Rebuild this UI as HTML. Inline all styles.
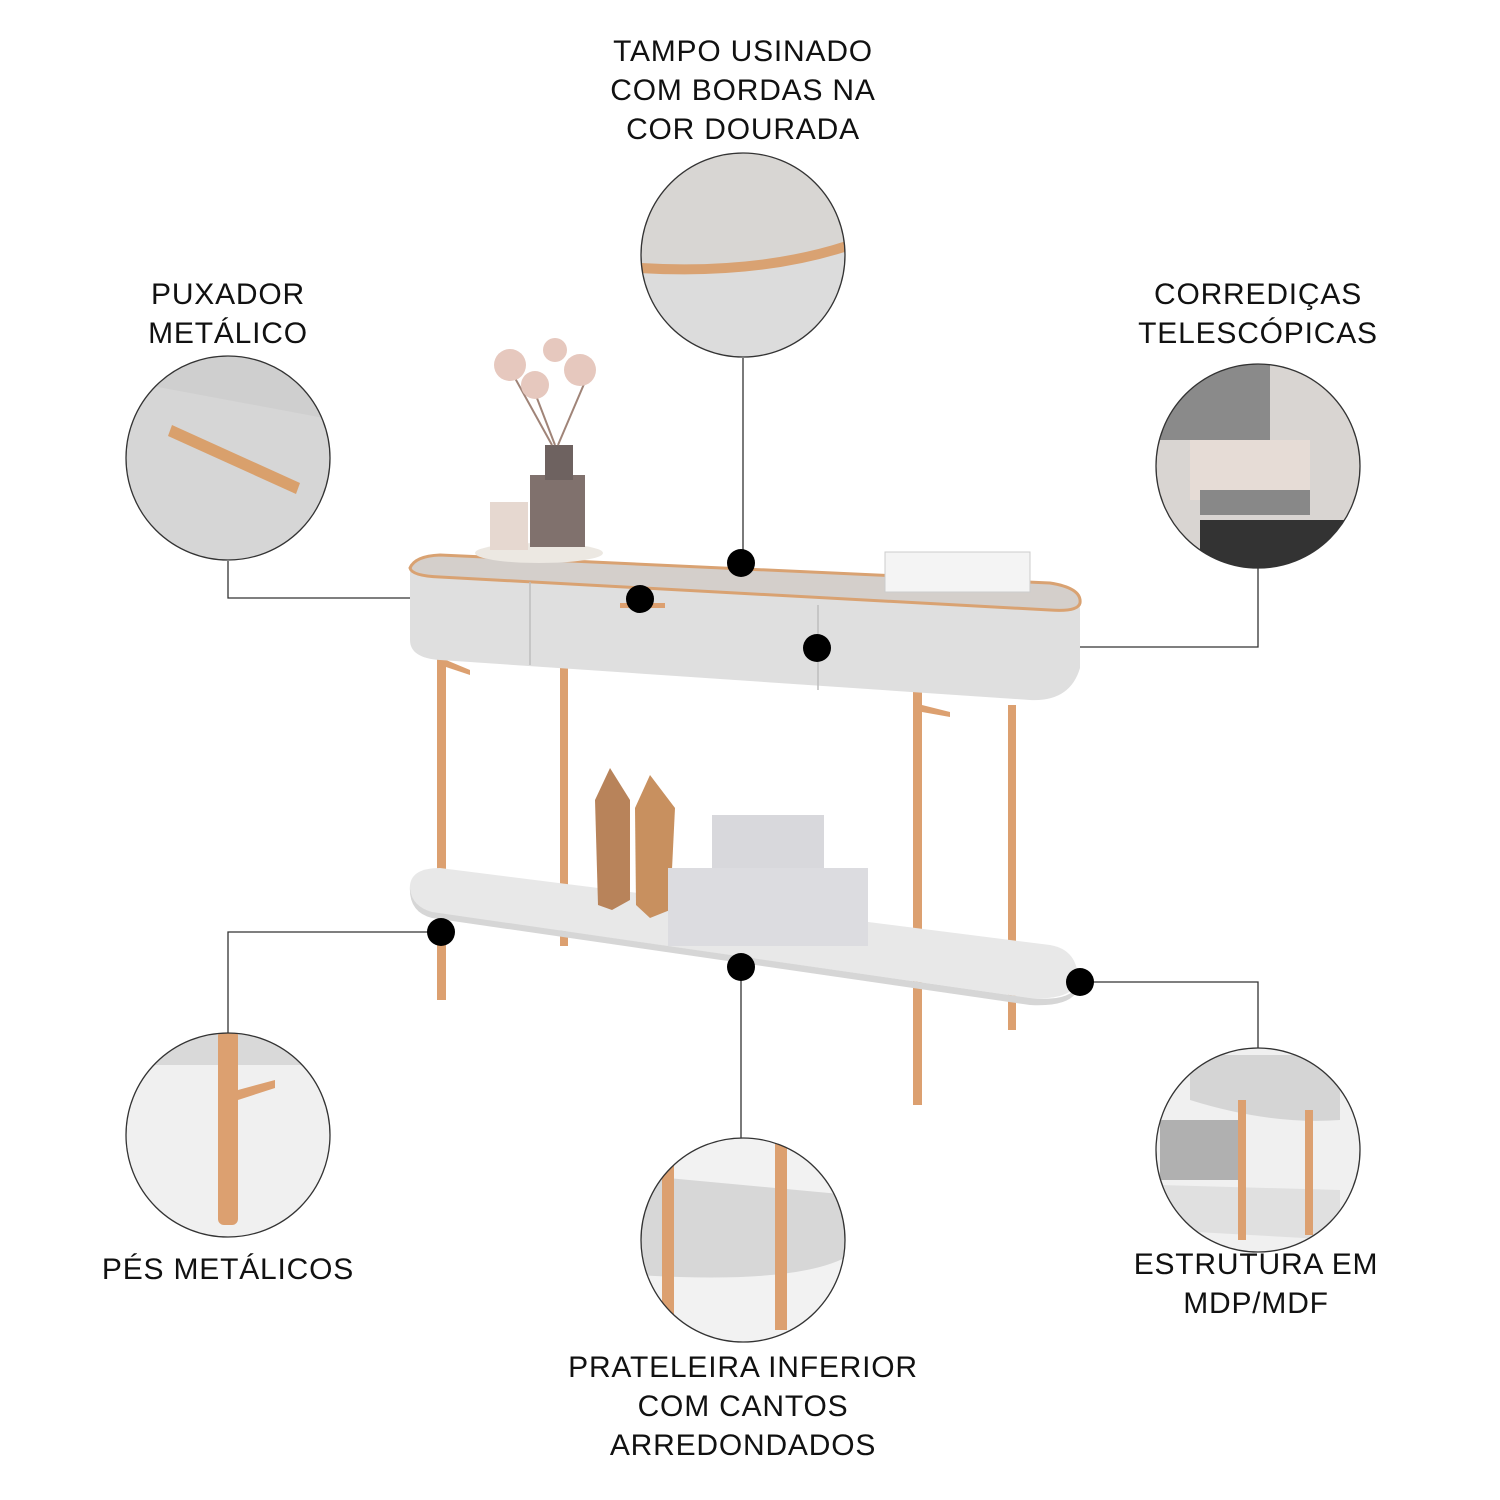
<!DOCTYPE html>
<html><head><meta charset="utf-8"><style>
html,body{margin:0;padding:0;background:#fff;}
.wrap{position:relative;width:1500px;height:1500px;overflow:hidden;font-family:"Liberation Sans",sans-serif;}
.lbl{position:absolute;text-align:center;font-size:30px;letter-spacing:0.8px;line-height:39px;color:#111;width:400px;}
</style></head><body><div class="wrap">
<svg width="1500" height="1500" style="position:absolute;left:0;top:0">
<defs>
<clipPath id="c1"><circle cx="743" cy="255" r="102"/></clipPath>
<clipPath id="c2"><circle cx="228" cy="458" r="102"/></clipPath>
<clipPath id="c3"><circle cx="1258" cy="466" r="102"/></clipPath>
<clipPath id="c4"><circle cx="228" cy="1135" r="102"/></clipPath>
<clipPath id="c5"><circle cx="743" cy="1240" r="102"/></clipPath>
<clipPath id="c6"><circle cx="1258" cy="1150" r="102"/></clipPath>
</defs>
<g stroke="#333" stroke-width="1.3" fill="none">
<path d="M743 358 V563"/>
<path d="M228 561 V598 H640"/>
<path d="M1258 568 V647 H817"/>
<path d="M441 932 H228 V1033"/>
<path d="M741 967 V1138"/>
<path d="M1080 982 H1258 V1048"/>
</g>
<g clip-path="url(#c1)"><rect x="640" y="150" width="210" height="210" fill="#d8d6d3"/>
<path d="M640 265 Q760 270 850 245 L850 360 L640 360Z" fill="#dcdcdc"/>
<path d="M640 268 Q760 275 850 245" stroke="#d9a272" stroke-width="10" fill="none"/></g>
<circle cx="743" cy="255" r="102" fill="none" stroke="#333" stroke-width="1.3"/>
<g clip-path="url(#c2)"><rect x="120" y="350" width="215" height="215" fill="#d6d6d6"/>
<path d="M120 350 H335 V420 L120 380Z" fill="#cfcfcf"/>
<path d="M172 425 L300 483 L296 494 L168 436Z" fill="#d9a06c"/></g>
<circle cx="228" cy="458" r="102" fill="none" stroke="#333" stroke-width="1.3"/>
<g clip-path="url(#c3)"><rect x="1150" y="360" width="215" height="215" fill="#d9d5d2"/>
<rect x="1150" y="360" width="120" height="80" fill="#8a8a8a"/>
<rect x="1190" y="440" width="120" height="60" fill="#e6dcd6"/>
<rect x="1200" y="490" width="110" height="25" fill="#888"/>
<rect x="1200" y="520" width="160" height="60" fill="#333"/></g>
<circle cx="1258" cy="466" r="102" fill="none" stroke="#333" stroke-width="1.3"/>
<g clip-path="url(#c4)"><rect x="120" y="1030" width="215" height="215" fill="#f0f0f0"/>
<rect x="120" y="1030" width="215" height="35" fill="#d9d9d9"/>
<rect x="218" y="1030" width="20" height="195" rx="6" fill="#dca070"/>
<path d="M238 1090 L275 1080 L275 1088 L238 1100Z" fill="#dca070"/></g>
<circle cx="228" cy="1135" r="102" fill="none" stroke="#333" stroke-width="1.3"/>
<g clip-path="url(#c5)"><rect x="636" y="1130" width="215" height="215" fill="#f2f2f2"/>
<path d="M636 1175 L850 1195 L850 1255 Q800 1285 636 1275Z" fill="#d7d7d7"/>
<rect x="662" y="1130" width="12" height="200" fill="#dca070"/>
<rect x="775" y="1130" width="12" height="200" fill="#dca070"/></g>
<circle cx="743" cy="1240" r="102" fill="none" stroke="#333" stroke-width="1.3"/>
<g clip-path="url(#c6)"><rect x="1150" y="1045" width="215" height="215" fill="#f0f0f0"/>
<path d="M1190 1055 H1340 V1120 Q1270 1125 1190 1100Z" fill="#d5d5d5"/>
<rect x="1160" y="1120" width="80" height="60" fill="#b0b0b0"/>
<path d="M1160 1185 L1340 1190 V1240 L1160 1230Z" fill="#e0e0e0"/>
<rect x="1238" y="1100" width="8" height="140" fill="#dca070"/>
<rect x="1305" y="1110" width="8" height="125" fill="#dca070"/></g>
<circle cx="1258" cy="1150" r="102" fill="none" stroke="#333" stroke-width="1.3"/>
<g fill="#dca070">
<rect x="560" y="668" width="8" height="278"/>
<rect x="1008" y="705" width="8" height="325"/>
<rect x="437" y="645" width="9" height="355"/>
<rect x="913" y="690" width="9" height="415"/>
<path d="M446 660 L470 670 L470 675 L446 667Z"/>
<path d="M922 705 L950 712 L950 717 L922 712Z"/>
</g>
<path d="M410 885 Q412 868 440 868 L1050 945 Q1080 950 1078 985 L1072 990 Q1060 1000 1030 998 L430 912 Q410 905 410 885Z" fill="#e8e8e8"/>
<path d="M410 885 Q410 906 432 912 L1030 998 Q1070 1002 1078 985 L1076 993 Q1066 1007 1030 1005 L432 918 Q408 912 410 885Z" fill="#d6d6d6"/>
<path d="M610 768 L630 800 L630 900 L612 910 L598 905 L595 800Z" fill="#b8835a"/>
<path d="M650 775 L675 808 L670 910 L650 918 L636 905 L635 808Z" fill="#c8905f"/>
<rect x="712" y="815" width="112" height="60" fill="#d8d8dc"/>
<rect x="668" y="868" width="200" height="78" fill="#dcdce0"/>
<path d="M410 572 Q410 560 430 560 L1050 590 Q1080 592 1080 610 L1080 668 Q1070 702 1030 700 L440 660 Q410 658 410 640Z" fill="#dfdfdf"/>
<path d="M410 568 Q415 556 440 555 L1050 583 Q1082 588 1080 603 Q1078 612 1050 610 L440 577 Q412 576 410 568Z" fill="#d4cfcb" stroke="#d9a272" stroke-width="3"/>
<g stroke="#bdbdbd" stroke-width="1.5"><line x1="530" y1="582" x2="530" y2="665"/><line x1="818" y1="605" x2="818" y2="690"/></g>
<rect x="620" y="603" width="45" height="5" fill="#dca070"/>
<ellipse cx="539" cy="553" rx="64" ry="10" fill="#ece8e2"/>
<rect x="530" y="475" width="55" height="72" fill="#80716d"/>
<rect x="545" y="445" width="28" height="35" fill="#6e6260"/>
<rect x="490" y="502" width="38" height="48" fill="#e6d8d0"/>
<g stroke="#a08478" stroke-width="2"><line x1="555" y1="445" x2="530" y2="380"/><line x1="558" y1="445" x2="590" y2="370"/><line x1="552" y1="445" x2="505" y2="360"/></g>
<g fill="#e6c8be"><circle cx="510" cy="365" r="16"/><circle cx="535" cy="385" r="14"/><circle cx="580" cy="370" r="16"/><circle cx="555" cy="350" r="12"/></g>
<rect x="885" y="552" width="145" height="40" fill="#f4f4f4" stroke="#ccc"/>
<g fill="#000">
<circle cx="741" cy="563" r="14"/><circle cx="640" cy="599" r="14"/><circle cx="817" cy="648" r="14"/>
<circle cx="441" cy="932" r="14"/><circle cx="741" cy="967" r="14"/><circle cx="1080" cy="982" r="14"/>
</g>
</svg>
<div class="lbl" style="left:543px;top:32px">TAMPO USINADO<br>COM BORDAS NA<br>COR DOURADA</div>
<div class="lbl" style="left:28px;top:275px">PUXADOR<br>METÁLICO</div>
<div class="lbl" style="left:1058px;top:275px">CORREDIÇAS<br>TELESCÓPICAS</div>
<div class="lbl" style="left:28px;top:1250px">PÉS METÁLICOS</div>
<div class="lbl" style="left:1056px;top:1245px">ESTRUTURA EM<br>MDP/MDF</div>
<div class="lbl" style="left:543px;top:1348px">PRATELEIRA INFERIOR<br>COM CANTOS<br>ARREDONDADOS</div>
</div></body></html>
